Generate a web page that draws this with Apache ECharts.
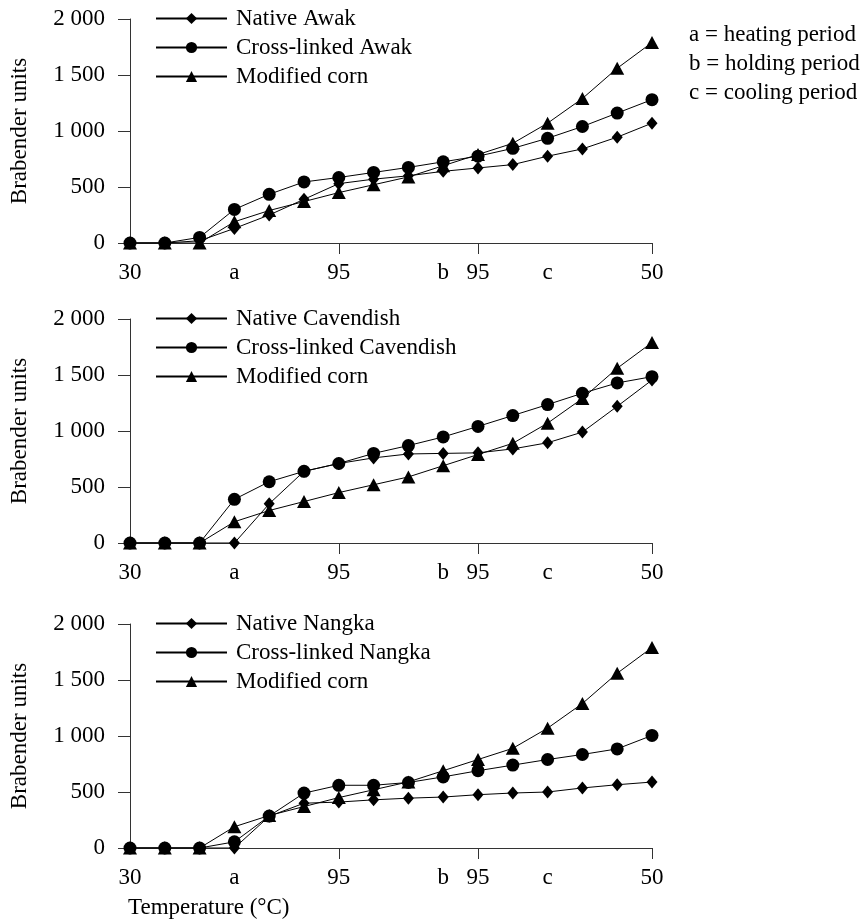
<!DOCTYPE html>
<html>
<head>
<meta charset="utf-8">
<script src="https://cdn.jsdelivr.net/npm/echarts@6/dist/echarts.min.js"></script>
<style>
  html, body { margin: 0; padding: 0; background: #fff; }
  #chart { width: 867px; height: 920px; }
</style>
</head>
<body>
<div id="chart"></div>
<script>
// x positions: 16 readings, only some are labelled
const categories = ['30', '', '', 'a', '', '', '95', '', '', 'b', '95', '', 'c', '', '', '50'];
const tickIndexes = [6, 10, 15];

const modifiedCorn = [0, 0, 0, 190, 290, 370, 450, 520, 590, 690, 790, 890, 1070, 1290, 1560, 1790];

const nativeAwak = [0, 0, 20, 130, 250, 390, 530, 570, 600, 640, 670, 700, 775, 840, 945, 1070];
const crossAwak = [0, 0, 50, 300, 435, 545, 585, 630, 675, 725, 775, 845, 935, 1040, 1160, 1280];

const nativeCavendish = [0, 0, 0, 0, 350, 640, 710, 760, 795, 800, 805, 840, 895, 990, 1220, 1455];
const crossCavendish = [0, 0, 0, 390, 547, 640, 710, 800, 870, 947, 1041, 1138, 1236, 1337, 1429, 1485];

const nativeNangka = [0, 0, 0, 0, 283, 400, 410, 430, 445, 455, 476, 491, 500, 536, 565, 589];
const crossNangka = [0, 0, 0, 55, 285, 490, 560, 560, 585, 635, 690, 740, 790, 835, 885, 1005];

const periodNotes = ['a = heating period', 'b = holding period', 'c = cooling period'];

const panels = [
    { top: 19, names: ['Native Awak', 'Cross-linked Awak', 'Modified corn'], data: [nativeAwak, crossAwak, modifiedCorn] },
    { top: 319, names: ['Native Cavendish', 'Cross-linked Cavendish', 'Modified corn'], data: [nativeCavendish, crossCavendish, modifiedCorn] },
    { top: 624, names: ['Native Nangka', 'Cross-linked Nangka', 'Modified corn'], data: [nativeNangka, crossNangka, modifiedCorn] }
];

const FONT = 'Liberation Serif';
const FS = 23;
const symbols = [['diamond', [11, 13]], ['circle', 13], ['triangle', [14, 13]]];

function fmtY(v) {
    if (v >= 1000) return Math.floor(v / 1000) + ' ' + String(v % 1000).padStart(3, '0');
    return String(v);
}

const grid = [], xAxis = [], yAxis = [], series = [], legend = [];

panels.forEach((p, i) => {
    grid.push({ left: 127, width: 525, top: p.top, height: 224 });
    xAxis.push({
        type: 'category',
        gridIndex: i,
        data: categories,
        boundaryGap: false,
        axisLine: { lineStyle: { color: '#333', width: 1 } },
        axisTick: { length: 11, lineStyle: { color: '#333' }, interval: (idx) => tickIndexes.includes(idx) },
        axisLabel: { interval: 0, margin: 18, color: '#000', fontFamily: FONT, fontSize: FS }
    });
    yAxis.push({
        type: 'value',
        gridIndex: i,
        min: 0,
        max: 2000,
        interval: 500,
        name: 'Brabender units',
        nameLocation: 'middle',
        nameRotate: 90,
        nameGap: 99,
        nameTextStyle: { color: '#000', fontFamily: FONT, fontSize: FS },
        axisLine: { show: true, lineStyle: { color: '#333', width: 1 } },
        axisTick: { show: true, length: 12, lineStyle: { color: '#333' } },
        axisLabel: { margin: 25, color: '#000', fontFamily: FONT, fontSize: FS, formatter: fmtY },
        splitLine: { show: false }
    });
    p.names.forEach((name, k) => {
        series.push({
            name: name,
            type: 'line',
            xAxisIndex: i,
            yAxisIndex: i,
            data: p.data[k],
            symbol: symbols[k][0],
            symbolSize: symbols[k][1],
            showAllSymbol: true,
            lineStyle: { color: '#000', width: 1 },
            itemStyle: { color: '#000' },
            z: 3 - k
        });
    });
    legend.push({
        orient: 'vertical',
        left: 155,
        top: p.top - 12,
        padding: 0,
        itemWidth: 71,
        itemHeight: 14,
        itemGap: 6,
        data: p.names,
        selectedMode: false,
        textStyle: { color: '#000', fontFamily: FONT, fontSize: FS, padding: [0, 0, 0, 4] }
    });
});

const graphic = periodNotes.map((t, i) => ({
    type: 'text',
    left: 689,
    top: 23 + i * 29,
    style: { text: t, fill: '#000', font: FS + 'px "' + FONT + '"' }
}));
graphic.push({
    type: 'text',
    left: 128,
    top: 896,
    style: { text: 'Temperature (°C)', fill: '#000', font: FS + 'px "' + FONT + '"' }
});

const chart = echarts.init(document.getElementById('chart'));
chart.setOption({
    animation: false,
    backgroundColor: '#fff',
    grid: grid,
    xAxis: xAxis,
    yAxis: yAxis,
    legend: legend,
    graphic: graphic,
    series: series
});
</script>
</body>
</html>
